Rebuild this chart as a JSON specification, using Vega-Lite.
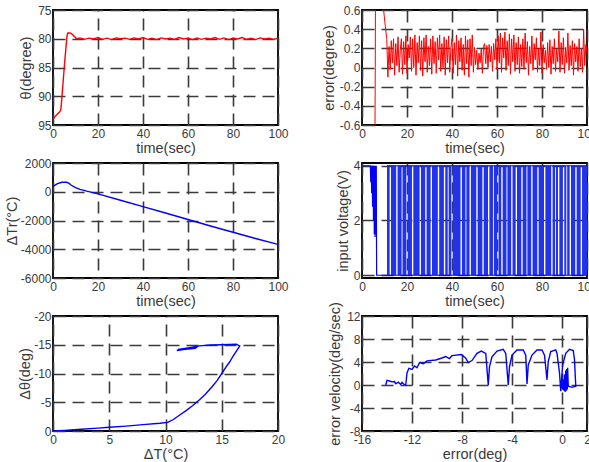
{
  "$schema": "https://vega.github.io/schema/vega-lite/v6.json",
  "background": "white",
  "padding": {"left": 3, "top": 3, "right": 0, "bottom": 0},
  "columns": 2,
  "bounds": "flush",
  "spacing": {"row": 38, "column": 84},
  "config": {
    "font": "Liberation Sans",
    "view": {"stroke": "black", "strokeWidth": 1.8},
    "axis": {
      "grid": true, "gridColor": "#3a3a3a", "gridDash": [12, 7], "gridWidth": 1.6, "gridOpacity": 1,
      "domain": false, "ticks": false,
      "labelFont": "Liberation Sans", "labelFontSize": 12, "labelColor": "#3a3a3a", "labelPadding": 2,
      "labelExpr": "replace(format(datum.value, '~g'), '\u2212', '-')",
      "titleFont": "Liberation Sans", "titleFontSize": 14.5, "titleFontWeight": "normal", "titleColor": "#3a3a3a", "titlePadding": 1,
      "labelOverlap": false, "labelFlush": false
    },
    "axisX": {"labelPadding": 3, "titlePadding": 2}
  },
  "datasets": {
    "theta": [
      {"t": 0, "v": 94}, {"t": 1, "v": 93.5}, {"t": 2, "v": 93.1}, {"t": 3, "v": 92.7}, {"t": 3.5, "v": 92.3},
      {"t": 4.2, "v": 89}, {"t": 5.2, "v": 84}, {"t": 6.2, "v": 79.6}, {"t": 6.6, "v": 79}, {"t": 7.5, "v": 79},
      {"t": 8.5, "v": 79.2}, {"t": 9.5, "v": 79.6}, {"t": 10.5, "v": 80}, {"t": 12, "v": 79.85}, {"t": 14, "v": 80.1},
      {"t": 16, "v": 79.9}, {"t": 18, "v": 80.05}, {"t": 20, "v": 79.8}, {"t": 22, "v": 80.1}, {"t": 24, "v": 79.9},
      {"t": 26, "v": 80.15}, {"t": 28, "v": 79.85}, {"t": 30, "v": 80.0}, {"t": 32, "v": 79.9}, {"t": 34, "v": 80.1},
      {"t": 36, "v": 79.85}, {"t": 38, "v": 80.05}, {"t": 40, "v": 79.8}, {"t": 42, "v": 80.1}, {"t": 44, "v": 79.9},
      {"t": 46, "v": 80.15}, {"t": 48, "v": 79.85}, {"t": 50, "v": 80.05}, {"t": 52, "v": 79.9}, {"t": 54, "v": 80.1},
      {"t": 56, "v": 79.8}, {"t": 58, "v": 80.05}, {"t": 60, "v": 79.9}, {"t": 62, "v": 80.15}, {"t": 64, "v": 79.85},
      {"t": 66, "v": 80.1}, {"t": 68, "v": 79.9}, {"t": 70, "v": 80.05}, {"t": 72, "v": 79.8}, {"t": 74, "v": 80.1},
      {"t": 76, "v": 79.85}, {"t": 78, "v": 80.15}, {"t": 80, "v": 79.9}, {"t": 82, "v": 80.05}, {"t": 84, "v": 79.8},
      {"t": 86, "v": 80.1}, {"t": 88, "v": 79.9}, {"t": 90, "v": 80.15}, {"t": 92, "v": 79.85}, {"t": 94, "v": 80.05},
      {"t": 96, "v": 79.9}, {"t": 98, "v": 80.1}, {"t": 100, "v": 79.9}
    ],
    "err": [
      {"t": 0, "v": -14}, {"t": 5.5, "v": -2}, {"t": 5.9, "v": 0}, {"t": 6.1, "v": 2}, {"t": 7, "v": 1.5},
      {"t": 8.5, "v": 0.9}, {"t": 9.6, "v": 0.6}, {"t": 10.5, "v": 0.4},
      {"t": 11.0, "v": 0.30}, {"t": 11.5, "v": -0.10}, {"t": 12.0, "v": 0.22}, {"t": 12.5, "v": -0.02}, {"t": 13.0, "v": 0.28},
      {"t": 13.5, "v": 0.05}, {"t": 14.0, "v": 0.30}, {"t": 14.5, "v": -0.08}, {"t": 15.0, "v": 0.25}, {"t": 15.5, "v": 0.02},
      {"t": 16.0, "v": 0.32}, {"t": 16.5, "v": -0.05}, {"t": 17.0, "v": 0.18}, {"t": 17.5, "v": 0.30}, {"t": 18.0, "v": -0.07},
      {"t": 18.5, "v": 0.27}, {"t": 19.0, "v": 0.03}, {"t": 19.5, "v": 0.33}, {"t": 20.0, "v": -0.06}, {"t": 20.5, "v": 0.24},
      {"t": 21.0, "v": 0.10}, {"t": 21.5, "v": 0.32}, {"t": 22.0, "v": -0.04}, {"t": 22.5, "v": 0.30}, {"t": 23.0, "v": 0.00},
      {"t": 23.5, "v": 0.34}, {"t": 24.0, "v": -0.08}, {"t": 24.5, "v": 0.26}, {"t": 25.0, "v": 0.05}, {"t": 25.5, "v": 0.33},
      {"t": 26.0, "v": -0.03}, {"t": 26.5, "v": 0.28}, {"t": 27.0, "v": -0.09}, {"t": 27.5, "v": 0.31}, {"t": 28.0, "v": 0.06},
      {"t": 28.5, "v": 0.34}, {"t": 29.0, "v": -0.05}, {"t": 29.5, "v": 0.22}, {"t": 30.0, "v": 0.02}, {"t": 30.5, "v": 0.30},
      {"t": 31.0, "v": -0.07}, {"t": 31.5, "v": 0.33}, {"t": 32.0, "v": 0.04}, {"t": 32.5, "v": 0.27}, {"t": 33.0, "v": -0.06},
      {"t": 33.5, "v": 0.31}, {"t": 34.0, "v": 0.08}, {"t": 34.5, "v": 0.34}, {"t": 35.0, "v": -0.04}, {"t": 35.5, "v": 0.25},
      {"t": 36.0, "v": 0.00}, {"t": 36.5, "v": 0.32}, {"t": 37.0, "v": -0.08}, {"t": 37.5, "v": 0.29}, {"t": 38.0, "v": 0.05},
      {"t": 38.5, "v": 0.33}, {"t": 39.0, "v": -0.05}, {"t": 39.5, "v": 0.20}, {"t": 40.0, "v": 0.30}, {"t": 40.5, "v": -0.06},
      {"t": 41.0, "v": 0.26}, {"t": 41.5, "v": 0.03}, {"t": 42.0, "v": 0.34}, {"t": 42.5, "v": -0.09}, {"t": 43.0, "v": 0.28},
      {"t": 43.5, "v": 0.06}, {"t": 44.0, "v": 0.31}, {"t": 44.5, "v": -0.03}, {"t": 45.0, "v": 0.24}, {"t": 45.5, "v": -0.08},
      {"t": 46.0, "v": 0.33}, {"t": 46.5, "v": 0.04}, {"t": 47.0, "v": 0.29}, {"t": 47.5, "v": -0.10}, {"t": 48.0, "v": 0.30},
      {"t": 48.5, "v": 0.02}, {"t": 49.0, "v": 0.34}, {"t": 49.5, "v": -0.05}, {"t": 50.0, "v": 0.21}, {"t": 50.5, "v": 0.03},
      {"t": 51.0, "v": 0.18}, {"t": 51.5, "v": -0.02}, {"t": 52.0, "v": 0.15}, {"t": 52.5, "v": 0.05}, {"t": 53.0, "v": 0.19},
      {"t": 53.5, "v": -0.06}, {"t": 54.0, "v": 0.22}, {"t": 54.5, "v": 0.25}, {"t": 55.0, "v": 0.04}, {"t": 55.5, "v": 0.23},
      {"t": 56.0, "v": 0.00}, {"t": 56.5, "v": 0.24}, {"t": 57.0, "v": 0.06}, {"t": 57.5, "v": 0.22}, {"t": 58.0, "v": -0.04},
      {"t": 58.5, "v": 0.25}, {"t": 59.0, "v": 0.08}, {"t": 59.5, "v": 0.30}, {"t": 60.0, "v": -0.02}, {"t": 60.5, "v": 0.33},
      {"t": 61.0, "v": 0.05}, {"t": 61.5, "v": 0.36}, {"t": 62.0, "v": -0.05}, {"t": 62.5, "v": 0.31}, {"t": 63.0, "v": 0.10},
      {"t": 63.5, "v": 0.37}, {"t": 64.0, "v": -0.03}, {"t": 64.5, "v": 0.28}, {"t": 65.0, "v": 0.02}, {"t": 65.5, "v": 0.35},
      {"t": 66.0, "v": -0.07}, {"t": 66.5, "v": 0.30}, {"t": 67.0, "v": 0.06}, {"t": 67.5, "v": 0.34}, {"t": 68.0, "v": -0.04},
      {"t": 68.5, "v": 0.26}, {"t": 69.0, "v": 0.03}, {"t": 69.5, "v": 0.32}, {"t": 70.0, "v": -0.06}, {"t": 70.5, "v": 0.24},
      {"t": 71.0, "v": 0.01}, {"t": 71.5, "v": 0.30}, {"t": 72.0, "v": -0.02}, {"t": 72.5, "v": 0.36}, {"t": 73.0, "v": 0.05},
      {"t": 73.5, "v": 0.27}, {"t": 74.0, "v": -0.08}, {"t": 74.5, "v": 0.22}, {"t": 75.0, "v": 0.04}, {"t": 75.5, "v": 0.33},
      {"t": 76.0, "v": -0.03}, {"t": 76.5, "v": 0.25}, {"t": 77.0, "v": 0.08}, {"t": 77.5, "v": 0.31}, {"t": 78.0, "v": -0.05},
      {"t": 78.5, "v": 0.20}, {"t": 79.0, "v": 0.02}, {"t": 79.5, "v": 0.37}, {"t": 80.0, "v": -0.06}, {"t": 80.5, "v": 0.24},
      {"t": 81.0, "v": 0.05}, {"t": 81.5, "v": 0.18}, {"t": 82.0, "v": -0.02}, {"t": 82.5, "v": 0.26}, {"t": 83.0, "v": 0.00},
      {"t": 83.5, "v": 0.29}, {"t": 84.0, "v": -0.07}, {"t": 84.5, "v": 0.22}, {"t": 85.0, "v": 0.04}, {"t": 85.5, "v": 0.30},
      {"t": 86.0, "v": -0.04}, {"t": 86.5, "v": 0.19}, {"t": 87.0, "v": 0.06}, {"t": 87.5, "v": 0.38}, {"t": 88.0, "v": -0.05},
      {"t": 88.5, "v": 0.26}, {"t": 89.0, "v": 0.03}, {"t": 89.5, "v": 0.31}, {"t": 90.0, "v": -0.06}, {"t": 90.5, "v": 0.21},
      {"t": 91.0, "v": 0.05}, {"t": 91.5, "v": 0.36}, {"t": 92.0, "v": -0.03}, {"t": 92.5, "v": 0.23}, {"t": 93.0, "v": 0.02},
      {"t": 93.5, "v": 0.28}, {"t": 94.0, "v": -0.08}, {"t": 94.5, "v": 0.25}, {"t": 95.0, "v": 0.06}, {"t": 95.5, "v": 0.22},
      {"t": 96.0, "v": -0.04}, {"t": 96.5, "v": 0.30}, {"t": 97.0, "v": 0.01}, {"t": 97.5, "v": 0.20}, {"t": 98.0, "v": -0.05},
      {"t": 98.5, "v": 0.40}, {"t": 99.0, "v": 0.02}, {"t": 99.5, "v": 0.24}, {"t": 100.0, "v": 0.15}
    ],
    "dtr": [
      {"t": 0, "v": 380}, {"t": 2, "v": 560}, {"t": 4, "v": 660}, {"t": 6, "v": 660}, {"t": 7, "v": 600},
      {"t": 8, "v": 470}, {"t": 10, "v": 290}, {"t": 12, "v": 170}, {"t": 15, "v": 40}, {"t": 20, "v": -150},
      {"t": 30, "v": -590}, {"t": 40, "v": -1030}, {"t": 50, "v": -1480}, {"t": 60, "v": -1930}, {"t": 70, "v": -2380},
      {"t": 80, "v": -2820}, {"t": 90, "v": -3250}, {"t": 100, "v": -3660}
    ],
    "bands": [
      {"a": 11.1, "b": 12.3}, {"a": 12.9, "b": 15.2}, {"a": 15.8, "b": 17.6}, {"a": 18.0, "b": 19.7},
      {"a": 20.3, "b": 22.2}, {"a": 22.8, "b": 25.6}, {"a": 26.2, "b": 28.1}, {"a": 28.7, "b": 30.5},
      {"a": 31.1, "b": 33.7}, {"a": 34.3, "b": 36.4}, {"a": 37.0, "b": 38.1}, {"a": 38.5, "b": 39.7},
      {"a": 40.3, "b": 43.8}, {"a": 44.4, "b": 46.0}, {"a": 46.4, "b": 47.8}, {"a": 48.4, "b": 50.8},
      {"a": 51.4, "b": 53.5}, {"a": 54.1, "b": 56.0}, {"a": 56.6, "b": 58.2}, {"a": 58.6, "b": 60.1},
      {"a": 60.7, "b": 61.9}, {"a": 62.5, "b": 64.2}, {"a": 64.6, "b": 66.3}, {"a": 66.9, "b": 68.3},
      {"a": 68.9, "b": 70.8}, {"a": 71.4, "b": 73.1}, {"a": 73.5, "b": 75.2}, {"a": 75.8, "b": 77.9},
      {"a": 78.5, "b": 80.9}, {"a": 81.5, "b": 84.1}, {"a": 84.7, "b": 85.8}, {"a": 86.2, "b": 87.1},
      {"a": 87.7, "b": 89.3}, {"a": 89.9, "b": 90.8}, {"a": 91.2, "b": 92.3}, {"a": 92.9, "b": 94.8},
      {"a": 95.4, "b": 97.2}, {"a": 97.8, "b": 100}
    ],
    "volt": [
      {"s": "a", "i": 0, "t": 0, "v": 4}, {"s": "a", "i": 1, "t": 3.7, "v": 4}, {"s": "a", "i": 2, "t": 3.9, "v": 3.4},
      {"s": "a", "i": 3, "t": 4.1, "v": 4}, {"s": "a", "i": 4, "t": 4.3, "v": 3.0}, {"s": "a", "i": 5, "t": 4.5, "v": 4},
      {"s": "a", "i": 6, "t": 4.7, "v": 2.5}, {"s": "a", "i": 7, "t": 4.9, "v": 4}, {"s": "a", "i": 8, "t": 5.1, "v": 2.0},
      {"s": "a", "i": 9, "t": 5.3, "v": 4}, {"s": "a", "i": 10, "t": 5.45, "v": 1.5}, {"s": "a", "i": 11, "t": 5.65, "v": 4},
      {"s": "a", "i": 12, "t": 5.8, "v": 1.4}, {"s": "a", "i": 13, "t": 6.0, "v": 4}, {"s": "a", "i": 14, "t": 6.15, "v": 1.5},
      {"s": "a", "i": 15, "t": 6.35, "v": 4}, {"s": "a", "i": 16, "t": 6.5, "v": 0}, {"s": "a", "i": 17, "t": 11.1, "v": 0},
      {"s": "b", "i": 0, "t": 11.1, "v": 4}, {"s": "b", "i": 1, "t": 100, "v": 4},
      {"s": "c", "i": 0, "t": 11.1, "v": 0}, {"s": "c", "i": 1, "t": 100, "v": 0}
    ],
    "phase": [
      {"i": 0, "x": 0, "y": 0}, {"i": 1, "x": 1, "y": -0.1}, {"i": 2, "x": 2.5, "y": -0.3}, {"i": 3, "x": 4, "y": -0.5},
      {"i": 4, "x": 5, "y": -0.65}, {"i": 5, "x": 6.5, "y": -0.85}, {"i": 6, "x": 8, "y": -1.1}, {"i": 7, "x": 9.5, "y": -1.35},
      {"i": 8, "x": 10.2, "y": -1.5}, {"i": 9, "x": 10.7, "y": -2.0}, {"i": 10, "x": 11.2, "y": -2.7}, {"i": 11, "x": 11.8, "y": -3.5},
      {"i": 12, "x": 12.4, "y": -4.4}, {"i": 13, "x": 13.0, "y": -5.4}, {"i": 14, "x": 13.5, "y": -6.3}, {"i": 15, "x": 14.1, "y": -7.6},
      {"i": 16, "x": 14.6, "y": -8.8}, {"i": 17, "x": 15.0, "y": -10.0}, {"i": 18, "x": 15.4, "y": -11.2}, {"i": 19, "x": 15.7, "y": -12.0},
      {"i": 20, "x": 16.0, "y": -13.0}, {"i": 21, "x": 16.3, "y": -13.9}, {"i": 22, "x": 16.6, "y": -14.8}, {"i": 23, "x": 16.3, "y": -15.1},
      {"i": 24, "x": 15.0, "y": -15.0}, {"i": 25, "x": 14.0, "y": -14.95}, {"i": 26, "x": 13.0, "y": -14.8}, {"i": 27, "x": 12.5, "y": -14.6},
      {"i": 28, "x": 11.0, "y": -14.0}, {"i": 29, "x": 12.8, "y": -14.5}, {"i": 30, "x": 11.1, "y": -14.2}, {"i": 31, "x": 12.9, "y": -14.7},
      {"i": 32, "x": 11.3, "y": -14.1}, {"i": 33, "x": 12.7, "y": -14.4}, {"i": 34, "x": 11.5, "y": -14.3}, {"i": 35, "x": 12.3, "y": -14.5},
      {"i": 36, "x": 11.6, "y": -14.2}
    ],
    "evel": [
      {"i": 0, "x": -14.1, "y": 0}, {"i": 1, "x": -14.0, "y": 0.8}, {"i": 2, "x": -13.8, "y": 0.7}, {"i": 3, "x": -13.6, "y": 0.55},
      {"i": 4, "x": -13.4, "y": 0.6}, {"i": 5, "x": -13.3, "y": 0.2}, {"i": 6, "x": -13.1, "y": 0.5}, {"i": 7, "x": -12.9, "y": 0.1},
      {"i": 8, "x": -12.8, "y": 0.45}, {"i": 9, "x": -12.6, "y": 0.05}, {"i": 10, "x": -12.5, "y": 0}, {"i": 11, "x": -12.4, "y": 2.1},
      {"i": 12, "x": -12.25, "y": 2.9}, {"i": 13, "x": -12.0, "y": 2.7}, {"i": 14, "x": -11.8, "y": 3.3}, {"i": 15, "x": -11.6, "y": 3.0},
      {"i": 16, "x": -11.4, "y": 3.9}, {"i": 17, "x": -11.1, "y": 3.7}, {"i": 18, "x": -10.8, "y": 4.2}, {"i": 19, "x": -10.1, "y": 4.35},
      {"i": 20, "x": -9.6, "y": 4.7}, {"i": 21, "x": -9.3, "y": 4.95}, {"i": 22, "x": -9.0, "y": 4.6}, {"i": 23, "x": -8.8, "y": 5.1},
      {"i": 24, "x": -8.05, "y": 5.3}, {"i": 25, "x": -7.7, "y": 4.65}, {"i": 26, "x": -7.5, "y": 3.9}, {"i": 27, "x": -7.2, "y": 4.25},
      {"i": 28, "x": -6.8, "y": 5.5}, {"i": 29, "x": -6.46, "y": 5.9}, {"i": 30, "x": -6.1, "y": 5.5}, {"i": 31, "x": -5.9, "y": 0},
      {"i": 32, "x": -5.8, "y": 3.2}, {"i": 33, "x": -5.6, "y": 4.9}, {"i": 34, "x": -5.2, "y": 5.9}, {"i": 35, "x": -4.7, "y": 6.2},
      {"i": 36, "x": -4.5, "y": 5.5}, {"i": 37, "x": -4.3, "y": 0}, {"i": 38, "x": -4.2, "y": 3.2}, {"i": 39, "x": -4.0, "y": 5.2},
      {"i": 40, "x": -3.6, "y": 6.1}, {"i": 41, "x": -3.1, "y": 6.1}, {"i": 42, "x": -2.9, "y": 5.2}, {"i": 43, "x": -2.8, "y": 0.2},
      {"i": 44, "x": -2.7, "y": 3.5}, {"i": 45, "x": -2.4, "y": 5.2}, {"i": 46, "x": -2.0, "y": 6.1}, {"i": 47, "x": -1.6, "y": 6.1},
      {"i": 48, "x": -1.4, "y": 5.2}, {"i": 49, "x": -1.2, "y": 0.9}, {"i": 50, "x": -1.1, "y": 4.1}, {"i": 51, "x": -0.9, "y": 5.8},
      {"i": 52, "x": -0.5, "y": 6.1}, {"i": 53, "x": -0.4, "y": 5.5}, {"i": 54, "x": -0.2, "y": 2.1}, {"i": 55, "x": -0.1, "y": -1.1},
      {"i": 56, "x": 0.05, "y": 3.5}, {"i": 57, "x": 0.3, "y": 5.5}, {"i": 58, "x": 0.6, "y": 6.2}, {"i": 59, "x": 0.9, "y": 6.0},
      {"i": 60, "x": 1.0, "y": 4.4}, {"i": 61, "x": 1.1, "y": -0.2}, {"i": 62, "x": 0.8, "y": -0.4}, {"i": 63, "x": 0.5, "y": -0.2},
      {"i": 64, "x": 0.45, "y": 3.0}, {"i": 65, "x": 0.42, "y": -0.8}, {"i": 66, "x": 0.38, "y": 2.8}, {"i": 67, "x": 0.35, "y": -1.0},
      {"i": 68, "x": 0.3, "y": 2.5}, {"i": 69, "x": 0.25, "y": -1.2}, {"i": 70, "x": 0.2, "y": 1.8}, {"i": 71, "x": 0.15, "y": -1.0},
      {"i": 72, "x": 0.1, "y": 1.0}, {"i": 73, "x": 0.05, "y": -0.8}, {"i": 74, "x": 0.0, "y": 0.5}, {"i": 75, "x": 0.1, "y": -0.5},
      {"i": 76, "x": 0.3, "y": 0.0}
    ]
  },
  "concat": [
    {
      "width": 225, "height": 115,
      "data": {"name": "theta"},
      "mark": {"type": "line", "color": "#ff0000", "strokeWidth": 1.4, "clip": true},
      "encoding": {
        "x": {"field": "t", "type": "quantitative", "scale": {"domain": [0, 100], "nice": false}, "axis": {"values": [0, 20, 40, 60, 80, 100], "title": "time(sec)"}},
        "y": {"field": "v", "type": "quantitative", "scale": {"domain": [75, 95], "nice": false, "zero": false, "reverse": true}, "axis": {"values": [75, 80, 85, 90, 95], "title": "θ(degree)", "titlePadding": 4}}
      }
    },
    {
      "width": 225, "height": 115,
      "data": {"name": "err"},
      "mark": {"type": "line", "color": "#ff0000", "strokeWidth": 1, "clip": true},
      "encoding": {
        "x": {"field": "t", "type": "quantitative", "scale": {"domain": [0, 100], "nice": false}, "axis": {"values": [0, 20, 40, 60, 80, 100], "title": "time(sec)"}},
        "y": {"field": "v", "type": "quantitative", "scale": {"domain": [-0.6, 0.6], "nice": false, "zero": false}, "axis": {"values": [-0.6, -0.4, -0.2, 0, 0.2, 0.4, 0.6], "title": "error(degree)", "titlePadding": 3}}
      }
    },
    {
      "width": 225, "height": 115,
      "data": {"name": "dtr"},
      "mark": {"type": "line", "color": "#0000ff", "strokeWidth": 1.4, "clip": true},
      "encoding": {
        "x": {"field": "t", "type": "quantitative", "scale": {"domain": [0, 100], "nice": false}, "axis": {"values": [0, 20, 40, 60, 80, 100], "title": "time(sec)"}},
        "y": {"field": "v", "type": "quantitative", "scale": {"domain": [-6000, 2000], "nice": false, "zero": false}, "axis": {"values": [-6000, -4000, -2000, 0, 2000], "title": "ΔTr(°C)", "titlePadding": 1}}
      }
    },
    {
      "width": 225, "height": 115,
      "layer": [
        {
          "data": {"name": "bands"},
          "mark": {"type": "rect", "color": "#2233ee", "clip": true},
          "encoding": {
            "x": {"field": "a", "type": "quantitative", "scale": {"domain": [0, 100], "nice": false}, "axis": {"values": [0, 20, 40, 60, 80, 100], "title": "time(sec)"}},
            "x2": {"field": "b"},
            "y": {"datum": 0, "type": "quantitative", "scale": {"domain": [-0.1, 4.1], "nice": false, "zero": false}, "axis": {"values": [0, 1, 2, 3, 4], "title": "input voltage(V)", "titlePadding": 3}},
            "y2": {"datum": 4}
          }
        },
        {
          "data": {"name": "volt"},
          "mark": {"type": "line", "color": "#0000ff", "strokeWidth": 1.2, "clip": true},
          "encoding": {
            "x": {"field": "t", "type": "quantitative"},
            "y": {"field": "v", "type": "quantitative"},
            "detail": {"field": "s"},
            "order": {"field": "i"}
          }
        }
      ]
    },
    {
      "width": 225, "height": 115,
      "data": {"name": "phase"},
      "mark": {"type": "line", "color": "#0000ff", "strokeWidth": 1.4, "clip": true},
      "encoding": {
        "x": {"field": "x", "type": "quantitative", "scale": {"domain": [0, 20], "nice": false}, "axis": {"values": [0, 5, 10, 15, 20], "title": "ΔT(°C)"}},
        "y": {"field": "y", "type": "quantitative", "scale": {"domain": [-20, 0], "nice": false, "zero": false, "reverse": true}, "axis": {"values": [-20, -15, -10, -5, 0], "title": "Δθ(deg)", "titlePadding": 1}},
        "order": {"field": "i"}
      }
    },
    {
      "width": 225, "height": 115,
      "data": {"name": "evel"},
      "mark": {"type": "line", "color": "#0000ff", "strokeWidth": 1.4, "clip": true},
      "encoding": {
        "x": {"field": "x", "type": "quantitative", "scale": {"domain": [-16, 2], "nice": false}, "axis": {"values": [-16, -12, -8, -4, 0, 2], "title": "error(deg)"}},
        "y": {"field": "y", "type": "quantitative", "scale": {"domain": [-8, 12], "nice": false, "zero": false}, "axis": {"values": [-8, -4, 0, 4, 8, 12], "title": "error velocity(deg/sec)", "titlePadding": 4}},
        "order": {"field": "i"}
      }
    }
  ]
}
